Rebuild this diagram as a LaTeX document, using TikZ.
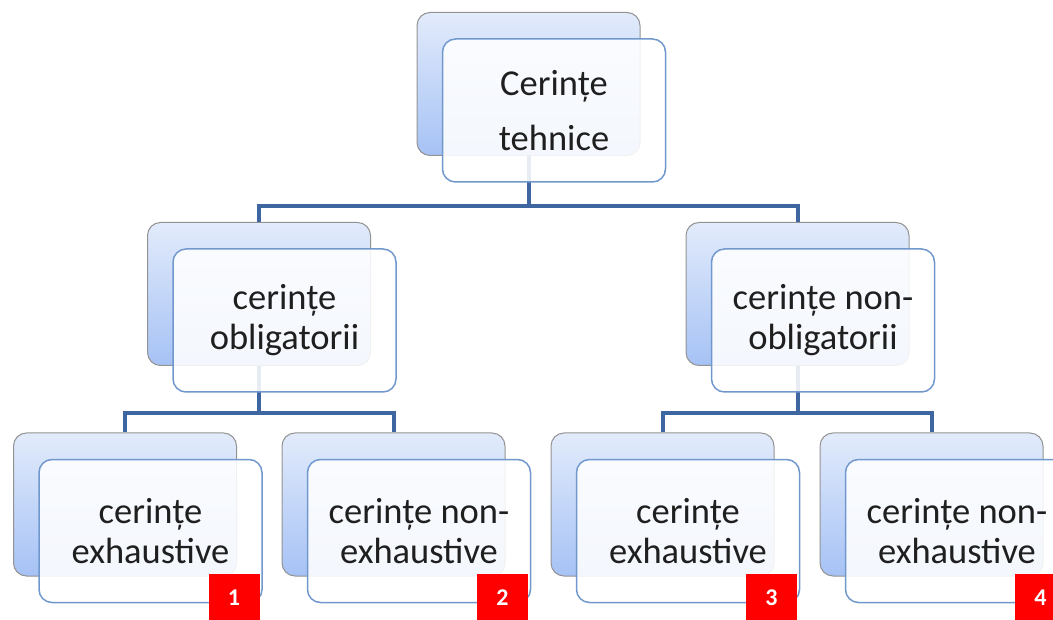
\documentclass[tikz,border=0pt]{standalone}
\usepackage{fontspec}
\setmainfont{Carlito}
\usetikzlibrary{positioning}

\definecolor{linkblue}{RGB}{62,102,160}
\definecolor{backtop}{RGB}{226,235,251}
\definecolor{backbot}{RGB}{166,194,245}
\definecolor{frontline}{RGB}{112,152,204}

\tikzset{
  back/.style={draw=gray!85, line width=1pt, rounded corners=13pt,
    minimum width=223pt, minimum height=143pt, inner sep=0pt,
    top color=backtop, bottom color=backbot},
  front/.style={draw=frontline, line width=1.5pt, rounded corners=13pt,
    minimum width=223pt, minimum height=143pt, inner sep=0pt,
    fill=white, fill opacity=0.88, text opacity=1, text=black!88,
    align=center, font=\fontsize{36.5}{40}\selectfont},
  link/.style={draw=linkblue, line width=4pt},
  badge/.style={fill=red, text=white, anchor=south east, inner sep=0pt,
    minimum width=51pt, minimum height=47pt,
    font=\fontsize{24}{24}\selectfont\bfseries}
}

\begin{document}
\begin{tikzpicture}[x=1pt,y=-1pt]
  \clip (0,0) rectangle (1053,620);

  % back boxes
  \node[back] (tehb) at (528.5,84) {};
  \node[back] (oblb) at (259,294) {};
  \node[back] (nonoblb) at (797.5,294) {};
  \node[back] (ex1b) at (125,504.5) {};
  \node[back] (nex1b) at (393.5,504.5) {};
  \node[back] (ex2b) at (662.5,504.5) {};
  \node[back] (nex2b) at (931.5,504.5) {};

  \draw[link] (tehb.south) -- ++(0,50) -| (oblb.north);
  \draw[link] (tehb.south) -- ++(0,50) -| (nonoblb.north);
  \draw[link] (oblb.south) -- ++(0,47) -| (ex1b.north);
  \draw[link] (oblb.south) -- ++(0,47) -| (nex1b.north);
  \draw[link] (nonoblb.south) -- ++(0,47) -| (ex2b.north);
  \draw[link] (nonoblb.south) -- ++(0,47) -| (nex2b.north);

  % front boxes
  \node[front, font=\fontsize{36.5}{55}\selectfont] (teh) at (554,110.5) {Cerințe\\tehnice};
  \node[front] (obl) at (284.5,320.5) {cerințe\\obligatorii};
  \node[front] (nonobl) at (823,320.5) {cerințe non-\\obligatorii};
  \node[front] (ex1) at (150.5,531) {cerințe\\exhaustive};
  \node[front] (nex1) at (419,531) {cerințe non-\\exhaustive};
  \node[front] (ex2) at (688,531) {cerințe\\exhaustive};
  \node[front] (nex2) at (957,531) {cerințe non-\\exhaustive};

  \node[badge] (n1) at ([shift={(-3,18)}]ex1.south east) {1};
  \node[badge] (n2) at ([shift={(-3,18)}]nex1.south east) {2};
  \node[badge] (n3) at ([shift={(-3,18)}]ex2.south east) {3};
  \node[badge] (n4) at ([shift={(-3,18)}]nex2.south east) {4};
\end{tikzpicture}
\end{document}
